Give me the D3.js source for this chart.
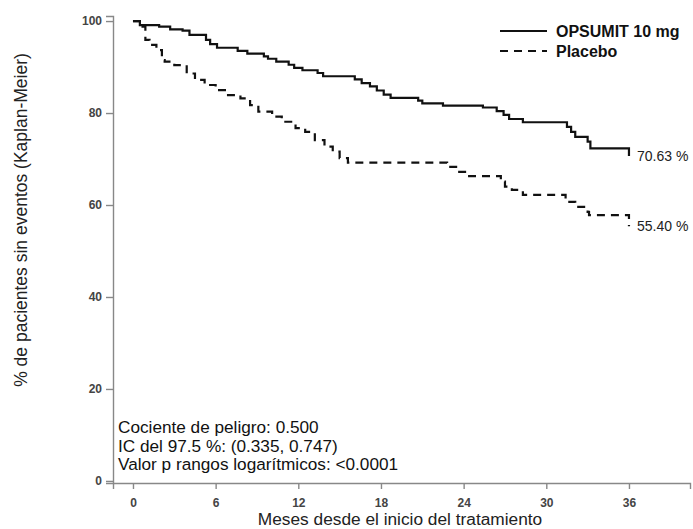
<!DOCTYPE html>
<html>
<head>
<meta charset="utf-8">
<script src="https://cdn.jsdelivr.net/npm/d3@7"></script>
<style>
  body { margin: 0; background: #fff; }
  svg { display: block; font-family: "Liberation Sans", Arial, sans-serif; }
</style>
</head>
<body>
<div id="chart"></div>
<script>
// Kaplan-Meier step points: [month, % event-free]
var opsumit = [
  [0, 100], [0.5, 99.1], [1.9, 98.8], [2.7, 98.2], [3.6, 97.9], [4.1, 97.0],
  [5.3, 95.9], [5.6, 95.0], [6.1, 94.2], [7.6, 93.5], [8.3, 92.9], [9.5, 92.3],
  [9.8, 91.8], [10.4, 91.2], [11.3, 90.5], [11.7, 89.8], [12.3, 89.3], [13.4, 88.7],
  [13.8, 88.0], [16.1, 87.3], [16.6, 86.5], [17.2, 85.8], [17.7, 84.9], [18.2, 84.0],
  [18.7, 83.3], [20.7, 82.7], [21.0, 82.1], [22.5, 81.6], [25.4, 81.2], [26.4, 80.4],
  [26.9, 79.6], [27.3, 78.7], [28.3, 78.0], [31.5, 77.0], [31.8, 75.9], [32.1, 74.8],
  [33.0, 73.8], [33.2, 72.3], [36.0, 70.63]
]
var placebo = [
  [0, 100], [0.5, 98.8], [0.9, 95.9], [1.2, 94.8], [1.7, 93.7], [2.1, 91.5],
  [2.3, 91.2], [3.0, 90.4], [3.9, 88.6], [4.5, 87.2], [5.2, 86.1], [6.0, 85.0],
  [6.9, 83.9], [7.8, 83.2], [8.5, 81.7], [9.1, 80.3], [10.1, 79.2], [10.8, 78.1],
  [11.8, 76.7], [12.5, 75.9], [13.2, 74.1], [13.9, 72.7], [14.5, 71.6], [15.0, 70.2],
  [15.6, 69.2], [22.8, 68.3], [23.6, 67.2], [24.4, 66.3], [26.7, 65.1], [27.0, 64.0],
  [27.5, 63.3], [28.3, 62.2], [31.4, 60.7], [32.1, 59.6], [33.0, 58.5], [33.1, 57.8],
  [36.0, 55.4]
]
var xTicks = [0, 6, 12, 18, 24, 30, 36]
var yTicks = [0, 20, 40, 60, 80, 100]
var endLabels = ["70.63 %", "55.40 %"]
var seriesNames = ["OPSUMIT 10 mg", "Placebo"]
var statLines = ["Cociente de peligro: 0.500", "IC del 97.5 %: (0.335, 0.747)",
  "Valor p rangos logarítmicos: <0.0001"]

var width = 693, height = 529

var svg = d3.select("#chart").append("svg")
  .attr("width", width)
  .attr("height", height)

var x = d3.scaleLinear().domain([-1.45, 40.43]).range([113, 690])
var y = d3.scaleLinear().domain([-0.45, 101.1]).range([483, 16])

// axes
var xAxis = svg.append("g")
  .attr("transform", "translate(0,483)")
  .call(d3.axisBottom(x).tickValues(xTicks).tickSizeOuter(0).tickSize(6).tickPadding(9))
var yAxis = svg.append("g")
  .attr("transform", "translate(113,0)")
  .call(d3.axisLeft(y).tickValues(yTicks).tickSizeOuter(0).tickSize(7).tickPadding(4))

;[xAxis, yAxis].forEach(function (g) {
  g.select(".domain").attr("stroke", "#888").attr("stroke-width", 1.4)
  g.selectAll(".tick line").attr("stroke", "#888").attr("stroke-width", 1.4)
  g.selectAll(".tick text")
    .attr("fill", "#444")
    .style("font-size", "12px")
    .style("font-weight", "bold")
    .style("font-family", "'Liberation Sans', Arial, sans-serif")
})

// curves
var line = d3.line()
  .x(function (d) { return x(d[0]) })
  .y(function (d) { return y(d[1]) })
  .curve(d3.curveStepAfter)

svg.append("path").datum(opsumit)
  .attr("d", line)
  .attr("fill", "none")
  .attr("stroke", "#111")
  .attr("stroke-width", 2.2)

svg.append("path").datum(placebo)
  .attr("d", line)
  .attr("fill", "none")
  .attr("stroke", "#111")
  .attr("stroke-width", 2.2)
  .attr("stroke-dasharray", "8,6")

// final values
;[opsumit, placebo].forEach(function (s, i) {
  var last = s[s.length - 1]
  svg.append("text")
    .attr("x", x(last[0]) + 8)
    .attr("y", y(last[1]))
    .attr("dy", "0.35em")
    .style("font-size", "14px")
    .attr("fill", "#222")
    .text(endLabels[i])
})

// legend
var legend = svg.append("g")
seriesNames.forEach(function (name, i) {
  var ly = 31 + i * 20
  legend.append("line")
    .attr("x1", 500).attr("x2", 547)
    .attr("y1", ly).attr("y2", ly)
    .attr("stroke", "#111")
    .attr("stroke-width", 2.2)
    .attr("stroke-dasharray", i == 1 ? "8,6" : null)
  legend.append("text")
    .attr("x", 556).attr("y", ly)
    .attr("dy", "0.35em")
    .style("font-size", "16px")
    .style("font-weight", "bold")
    .attr("fill", "#111")
    .text(name)
})

// hazard ratio block
statLines.forEach(function (t, i) {
  svg.append("text")
    .attr("x", 118)
    .attr("y", 433 + i * 18.5)
    .style("font-size", "17.2px")
    .attr("fill", "#111")
    .text(t)
})

// axis titles
svg.append("text")
  .attr("x", 400).attr("y", 525)
  .attr("text-anchor", "middle")
  .style("font-size", "17.3px")
  .attr("fill", "#222")
  .text("Meses desde el inicio del tratamiento")

svg.append("text")
  .attr("transform", "translate(27,220) rotate(-90)")
  .attr("text-anchor", "middle")
  .style("font-size", "17.5px")
  .attr("fill", "#222")
  .text("% de pacientes sin eventos (Kaplan-Meier)")
</script>
</body>
</html>
